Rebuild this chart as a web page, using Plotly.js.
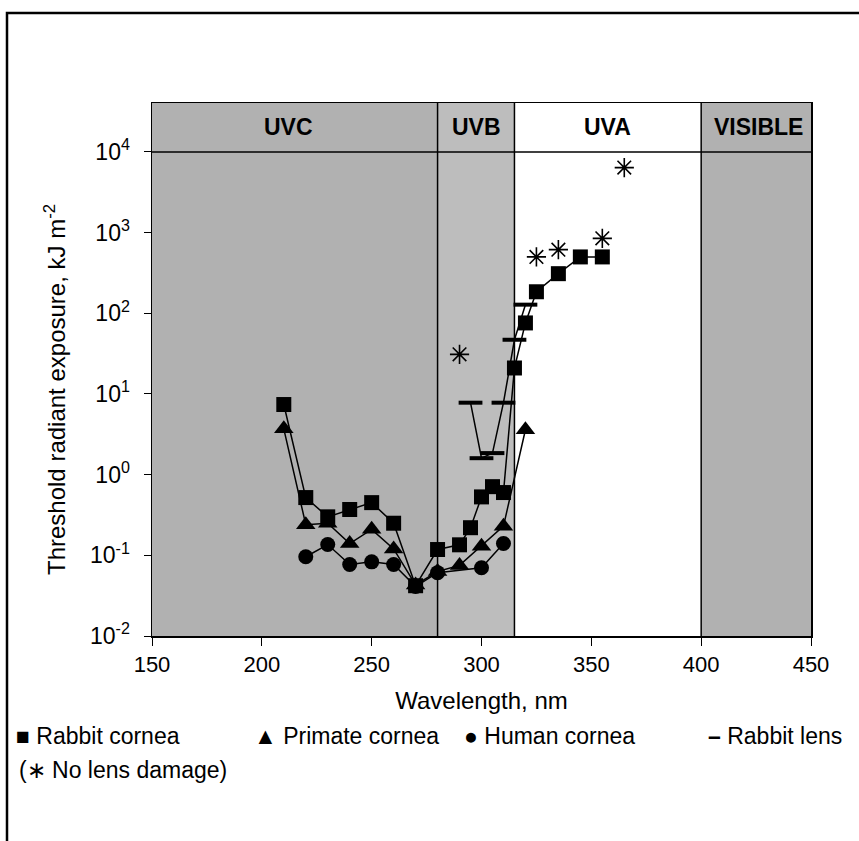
<!DOCTYPE html>
<html><head><meta charset="utf-8">
<script src="https://cdn.plot.ly/plotly-3.0.1.min.js"></script>
<style>body{margin:0;background:#fff}#chart{width:859px;height:841px}</style>
</head><body><div id="chart"></div>
<script>
// Rabbit cornea
const rabbitCorneaX = [210,220,230,240,250,260,270,280,290,295,300,305,310,315,320,325,335,345,355];
const rabbitCorneaY = [7.4,0.52,0.30,0.37,0.45,0.25,0.042,0.118,0.135,0.22,0.53,0.71,0.6,21,76,185,310,500,500];
// Primate cornea
const primateX = [210,220,230,240,250,260,270,280,290,300,310,320];
const primateY = [3.7,0.24,0.25,0.14,0.21,0.12,0.043,0.063,0.075,0.13,0.23,3.6];
// Human cornea
const humanX = [220,230,240,250,260,270,280,300,310];
const humanY = [0.096,0.136,0.077,0.083,0.077,0.041,0.061,0.07,0.14];
// Rabbit lens
const lensX = [295,300,305,310,315,320];
const lensY = [7.8,1.6,1.85,7.8,47,128];
// No lens damage
const noDamageX = [290,325,335,355,365];
const noDamageY = [31,500,615,850,6400];
// Spectral bands
const bandNames = ["UVC","UVB","UVA","VISIBLE"];
const bandStart = [150,280,315,400];
const bandEnd = [280,315,400,450];
const bandFill = ["#b1b1b1","#bdbdbd","#ffffff","#b1b1b1"];
const bandLabelX = [212,297.5,357.5,426];
const yTickVals = [0.01,0.1,1,10,100,1000,10000];
const yTickText = ["10<sup>-2</sup>","10<sup>-1</sup>","10<sup>0</sup>","10<sup>1</sup>","10<sup>2</sup>","10<sup>3</sup>","10<sup>4</sup>"];
const xTickVals = [150,200,250,300,350,400,450];

const F = "Liberation Sans, Arial, sans-serif";
const ln = {color:"#000", width:1.5};
const traces = [
  {x:primateX, y:primateY, mode:"lines+markers", line:ln, marker:{symbol:"triangle-up", size:17, color:"#000"}, name:"Primate cornea"},
  {x:humanX, y:humanY, mode:"lines+markers", line:ln, marker:{symbol:"circle", size:15, color:"#000"}, name:"Human cornea"},
  {x:rabbitCorneaX, y:rabbitCorneaY, mode:"lines+markers", line:ln, marker:{symbol:"square", size:15, color:"#000"}, name:"Rabbit cornea"},
  {x:lensX, y:lensY, mode:"lines+markers", line:ln, marker:{symbol:"line-ew-open", size:17, color:"#000", line:{color:"#000", width:4}}, name:"Rabbit lens"},
  {x:noDamageX, y:noDamageY, mode:"markers", marker:{symbol:"asterisk-open", size:16, color:"#000", line:{color:"#000", width:1.6}}, name:"No lens damage"}
];

const shapes = [];
const annotations = [];
for (let i=0;i<bandNames.length;i++){
  shapes.push({type:"rect", layer:"below", xref:"x", yref:"paper", x0:bandStart[i], x1:bandEnd[i], y0:0, y1:1, fillcolor:bandFill[i], line:{width:0}});
  annotations.push({xref:"x", yref:"paper", x:bandLabelX[i], y:(636-127)/533, yanchor:"middle", text:"<b>"+bandNames[i]+"</b>", showarrow:false, font:{family:F, size:23, color:"#000"}});
}
for (const b of [280,315,400]) {
  shapes.push({type:"line", xref:"x", yref:"paper", x0:b, x1:b, y0:0, y1:1, line:{color:"#000", width:1.5}});
}
shapes.push({type:"line", xref:"paper", yref:"paper", x0:0, x1:1, y0:6/6.607, y1:6/6.607, line:{color:"#000", width:1.5}});
// outer frame
shapes.push({type:"rect", xref:"paper", yref:"paper", x0:(7-152)/659, x1:1.2, y0:-0.5, y1:(636-13)/533, line:{color:"#000", width:2.5}, fillcolor:"rgba(0,0,0,0)"});

const legendItems = [
  {sym:"■", txt:"Rabbit cornea", x:14},
  {sym:"▲", txt:"Primate cornea", x:252},
  {sym:"●", txt:"Human cornea", x:462},
  {sym:"<b>–</b>", txt:"Rabbit lens", x:706}
];
for (const it of legendItems){
  annotations.push({xref:"paper", yref:"paper", x:(it.x-152)/659, y:(636-736)/533, xanchor:"left", yanchor:"middle", text:it.sym+" "+it.txt, showarrow:false, font:{family:F, size:23, color:"#000"}});
}
annotations.push({xref:"paper", yref:"paper", x:(17-152)/659, y:(636-770)/533, xanchor:"left", yanchor:"middle", text:"(∗ No lens damage)", showarrow:false, font:{family:F, size:23, color:"#000"}});
// y-axis title, centred on the decade range as in the reference
annotations.push({xref:"paper", yref:"paper", x:(55-152)/659, y:(636-390)/533, xanchor:"center", yanchor:"middle", textangle:-90,
  text:"Threshold radiant exposure, kJ m<sup>-2</sup>", showarrow:false, font:{family:F, size:24, color:"#000"}});

const layout = {
  width:859, height:841,
  margin:{l:152, r:48, t:103, b:205},
  paper_bgcolor:"#fff", plot_bgcolor:"#fff",
  showlegend:false,
  font:{family:F, size:22, color:"#000"},
  xaxis:{range:[150,450], tickvals:xTickVals, ticks:"outside", ticklen:8, tickwidth:1, tickcolor:"#000",
         showgrid:false, zeroline:false, showline:true, linecolor:"#000", linewidth:1.5, mirror:true,
         tickfont:{family:F, size:22}, title:{text:"Wavelength, nm", font:{family:F, size:24}, standoff:16}},
  yaxis:{type:"log", range:[-2,4.607], tickvals:yTickVals, ticktext:yTickText, ticks:"outside", ticklen:7, tickwidth:1, tickcolor:"#000",
         ticklabelstandoff:9,
         showgrid:false, zeroline:false, showline:true, linecolor:"#000", linewidth:1.5, mirror:true,
         tickfont:{family:F, size:23}},
  shapes:shapes, annotations:annotations
};
Plotly.newPlot("chart", traces, layout, {displayModeBar:false, staticPlot:true});
</script></body></html>
